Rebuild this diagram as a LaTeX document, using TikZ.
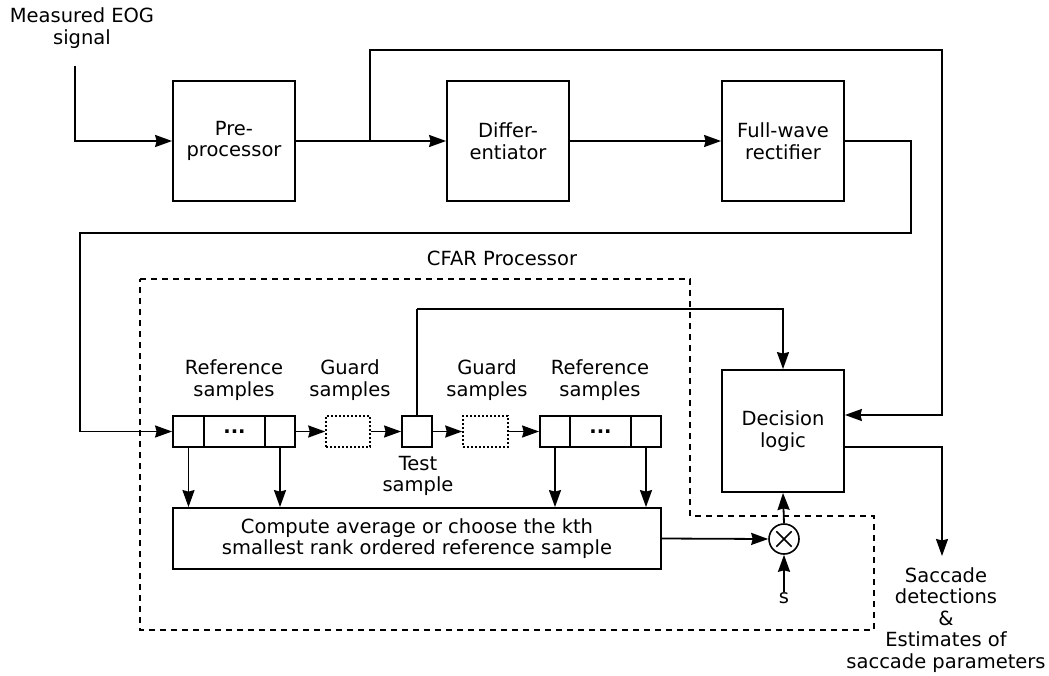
\documentclass[tikz,border=0pt]{standalone}
\usepackage{fontspec}
\setmainfont{DejaVu Sans}
\usetikzlibrary{arrows.meta}

\begin{document}
\begin{tikzpicture}[x=1pt,y=-1pt,
  lbl/.style={font=\fontsize{19.5}{21.5}\selectfont, align=center, inner sep=0pt},
  blk/.style={draw, line width=1.8pt, minimum width=122pt, minimum height=120pt, inner sep=0pt, lbl},
  cell/.style={draw, line width=1.8pt, minimum height=31pt, inner sep=0pt},
  guard/.style={cell, line width=1.5pt, dash pattern=on 2pt off 2pt},
  wire/.style={line width=1.8pt},
  arr/.style={wire, -{Stealth[length=17pt,width=12pt,inset=1.5pt]}},
  region/.style={line width=1.6pt, dash pattern=on 6pt off 5pt},
  dots/.style={font=\bfseries\fontsize{19.5}{20}\selectfont},
]
\useasboundingbox (0,0) rectangle (1049,675);

% processing chain
\node[blk] (pre)  at (234,141) {Pre-\\processor};
\node[blk] (diff) at (508,141) {Differ-\\entiator};
\node[blk] (fwr)  at (783,141) {Full-wave\\rectifier};
\node[blk, minimum height=122pt] (dec) at (783,431) {Decision\\logic};

\node[lbl] (inlbl) at (82,28) {Measured EOG\\signal};
\coordinate (in) at (75,66);

% CFAR window
\draw[region] (140,279) -- (690,279) -- (690,516) -- (874,516) -- (874,630) -- (140,630) -- cycle;
\node[lbl] (cfar) at (502,258) {CFAR Processor};

\node[cell, minimum width=31pt] (refL1) at (188.5,431.5) {};
\node[cell, minimum width=61pt, dots] (refL2) at (234.5,431.5) {...};
\node[cell, minimum width=30pt] (refL3) at (280,431.5) {};
\node[guard, minimum width=44pt] (g1) at (348,431.5) {};
\node[cell, minimum width=30pt] (test) at (417,431.5) {};
\node[guard, minimum width=45pt] (g2) at (485.5,431.5) {};
\node[cell, minimum width=30pt] (refR1) at (555,431.5) {};
\node[cell, minimum width=61pt, dots] (refR2) at (600.5,431.5) {...};
\node[cell, minimum width=30pt] (refR3) at (646,431.5) {};

\node[lbl] (lRef)  at (234,380) {Reference\\samples};
\node[lbl] (lG1)   at (350,380) {Guard\\samples};
\node[lbl] (lG2)   at (487,380) {Guard\\samples};
\node[lbl] (lRef2) at (600,380) {Reference\\samples};
\node[lbl] (lTest) at (418,476) {Test\\sample};

\node[draw, line width=1.8pt, minimum width=488pt, minimum height=61pt, lbl] (comp) at (417,538.5)
  {Compute average or choose the kth\\smallest rank ordered reference sample};

\node[draw, circle, line width=1.6pt, minimum size=30pt, inner sep=0pt] (mult) at (784,539) {};
\draw[line width=1.5pt, shorten >=5pt, shorten <=5pt] (mult.45) -- (mult.225);
\draw[line width=1.5pt, shorten >=5pt, shorten <=5pt] (mult.135) -- (mult.315);
\node[lbl] (s) at (784,598) {s};

\node[lbl] (outlbl) at (946,620) {Saccade\\detections\\\&\\Estimates of\\saccade parameters};
\coordinate (out) at (942,556);

% routing points
\coordinate (br) at (370,141);
\coordinate (topR) at (942,50);
\coordinate (r1) at (911,233);
\coordinate (r2) at (80,233);
\coordinate (tp) at (417,309);

% connectors
\draw[arr] (in) |- (pre.west);
\draw[arr] (pre.east) -- (diff.west);
\draw[arr] (diff.east) -- (fwr.west);
\draw[arr] (br) |- (topR) |- ([yshift=16pt]dec.east);
\draw[arr] (fwr.east) -| (r1) -- (r2) |- (refL1.west);
\draw[arr] (refL3.east) -- (g1.west);
\draw[arr] (g1.east) -- (test.west);
\draw[arr] (test.east) -- (g2.west);
\draw[arr] (g2.east) -- (refR1.west);
\draw[wire] (test.north) -- (tp);
\draw[arr] (tp) -| (dec.north);
\draw[arr] (refL1.south) -- (refL1.south |- comp.north);
\draw[arr] (refL3.south) -- (refL3.south |- comp.north);
\draw[arr] (refR1.south) -- (refR1.south |- comp.north);
\draw[arr] (refR3.south) -- (refR3.south |- comp.north);
\draw[arr] (comp.east) -- (mult.west);
\draw[arr] (mult.north) -- (dec.south);
\draw[arr] (s.north) -- (mult.south);
\draw[arr] ([yshift=-16pt]dec.east) -| (out);
\end{tikzpicture}
\end{document}
